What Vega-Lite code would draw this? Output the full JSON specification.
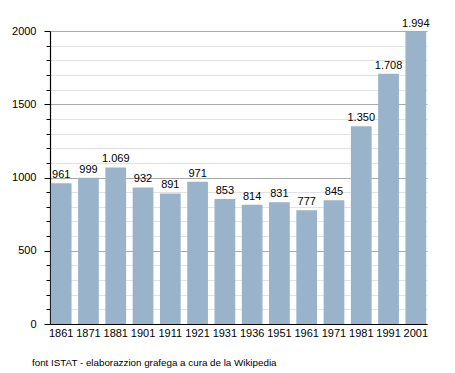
{
  "$schema": "https://vega.github.io/schema/vega-lite/v6.json",
  "width": 377,
  "height": 293,
  "autosize": {"type": "none"},
  "padding": {"left": 50, "top": 31, "right": 28, "bottom": 49},
  "background": "white",
  "config": {
    "font": "Liberation Sans",
    "view": {"stroke": null},
    "locale": {"number": {"decimal": ",", "thousands": ".", "grouping": [3], "currency": ["", " €"]}}
  },
  "title": {
    "text": "font ISTAT - elaborazzion grafega a cura de la Wikipedia",
    "orient": "bottom",
    "anchor": "start",
    "frame": "group",
    "dx": -18,
    "offset": 20,
    "fontSize": 9.8,
    "fontWeight": "normal",
    "color": "#000",
    "font": "Liberation Sans"
  },
  "data": {
    "values": [
      {"anno": "1861", "abitanti": 961},
      {"anno": "1871", "abitanti": 999},
      {"anno": "1881", "abitanti": 1069},
      {"anno": "1901", "abitanti": 932},
      {"anno": "1911", "abitanti": 891},
      {"anno": "1921", "abitanti": 971},
      {"anno": "1931", "abitanti": 853},
      {"anno": "1936", "abitanti": 814},
      {"anno": "1951", "abitanti": 831},
      {"anno": "1961", "abitanti": 777},
      {"anno": "1971", "abitanti": 845},
      {"anno": "1981", "abitanti": 1350},
      {"anno": "1991", "abitanti": 1708},
      {"anno": "2001", "abitanti": 1994}
    ]
  },
  "encoding": {
    "x": {
      "field": "anno",
      "type": "nominal",
      "sort": null,
      "scale": {"paddingInner": 0.24, "paddingOuter": 0.03},
      "axis": {
        "title": null,
        "labelAngle": 0,
        "ticks": false,
        "labelPadding": 3,
        "labelFontSize": 11,
        "labelColor": "#000",
        "domainColor": "#000",
        "domainWidth": 1.2,
        "grid": false
      }
    },
    "y": {
      "field": "abitanti",
      "type": "quantitative",
      "scale": {"domain": [0, 2000], "nice": false},
      "axis": {
        "title": null,
        "values": [0,100,200,300,400,500,600,700,800,900,1000,1100,1200,1300,1400,1500,1600,1700,1800,1900,2000],
        "labelExpr": "datum.value % 500 === 0 ? datum.value : ''",
        "format": "d",
        "labelFontSize": 11,
        "labelColor": "#000",
        "labelPadding": 8,
        "domainColor": "#000",
        "domainWidth": 1.2,
        "tickColor": "#000",
        "tickSize": {"condition": {"test": "datum.value % 500 === 0", "value": 6}, "value": 4},
        "grid": true,
        "gridColor": {"condition": {"test": "datum.value % 500 === 0", "value": "#aaaaaa"}, "value": "#e2e2e2"},
        "gridWidth": 1
      }
    }
  },
  "layer": [
    {"mark": {"type": "bar", "color": "#99b3cb"}},
    {
      "mark": {"type": "text", "baseline": "bottom", "dy": -3, "fontSize": 11, "color": "#000", "font": "Liberation Sans"},
      "encoding": {"text": {"field": "abitanti", "type": "quantitative", "format": ",d"}}
    }
  ]
}
